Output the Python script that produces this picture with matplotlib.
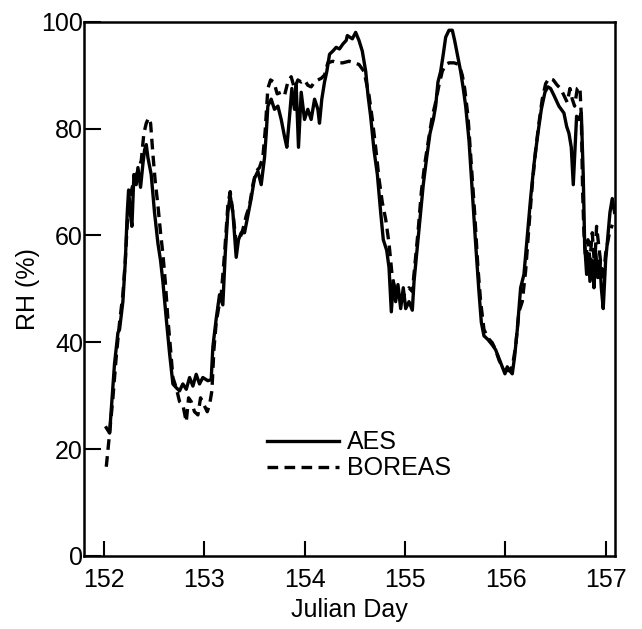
import matplotlib
matplotlib.use('Agg')
import matplotlib.pyplot as plt

plt.rcParams['font.family'] = ['Liberation Sans', 'DejaVu Sans']

# AES series (solid)
aes_day = [152.027, 152.060, 152.109, 152.143, 152.159, 152.192, 152.216, 152.235, 152.249, 152.269,
           152.282, 152.302, 152.325, 152.342, 152.368, 152.391, 152.408, 152.425, 152.441, 152.474,
           152.507, 152.541, 152.567, 152.590, 152.624, 152.657, 152.690, 152.723, 152.756, 152.789,
           152.823, 152.856, 152.889, 152.922, 152.955, 152.988, 153.038, 153.071, 153.088, 153.121,
           153.154, 153.187, 153.211, 153.237, 153.260, 153.287, 153.320, 153.343, 153.370, 153.403,
           153.436, 153.469, 153.502, 153.536, 153.569, 153.602, 153.619, 153.635, 153.668, 153.701,
           153.735, 153.768, 153.801, 153.824, 153.851, 153.874, 153.900, 153.917, 153.940, 153.967,
           154.000, 154.033, 154.066, 154.100, 154.133, 154.149, 154.172, 154.199, 154.222, 154.249,
           154.282, 154.315, 154.348, 154.381, 154.415, 154.426, 154.476, 154.509, 154.542, 154.575,
           154.609, 154.632, 154.658, 154.692, 154.725, 154.758, 154.784, 154.818, 154.841, 154.864,
           154.884, 154.907, 154.930, 154.957, 154.983, 155.007, 155.040, 155.073, 155.090, 155.116,
           155.149, 155.182, 155.216, 155.249, 155.282, 155.305, 155.328, 155.355, 155.381, 155.405,
           155.438, 155.471, 155.494, 155.521, 155.554, 155.580, 155.604, 155.637, 155.670, 155.703,
           155.736, 155.760, 155.786, 155.826, 155.869, 155.902, 155.935, 155.968, 155.995, 156.018,
           156.041, 156.068, 156.091, 156.118, 156.151, 156.184, 156.211, 156.250, 156.284, 156.323,
           156.357, 156.393, 156.423, 156.449, 156.483, 156.532, 156.582, 156.609, 156.632, 156.655,
           156.675, 156.692, 156.708, 156.731, 156.755, 156.774, 156.788, 156.808, 156.824, 156.841,
           156.864, 156.881, 156.900, 156.920, 156.940, 156.954, 156.973, 156.997, 157.013, 157.040,
           157.063, 157.086]
aes_rh = [24.0, 23.0, 36.0, 41.8, 42.4, 47.6, 55.0, 64.0, 68.5, 63.7,
          61.7, 71.4, 69.5, 72.7, 69.0, 73.3, 76.0, 77.0, 74.6, 71.4,
          64.3, 58.5, 55.3, 51.4, 44.4, 37.9, 32.2, 31.5, 30.9, 32.2,
          31.2, 33.4, 31.8, 34.0, 32.2, 33.4, 32.8, 33.0, 39.2, 44.4,
          48.9, 47.0, 56.6, 64.3, 67.5, 64.3, 55.9, 59.2, 60.5, 60.5,
          63.7, 66.9, 70.7, 72.0, 69.5, 74.6, 79.1, 84.2, 85.5, 83.6,
          84.2, 81.7, 78.5, 76.5, 82.3, 87.5, 83.6, 88.1, 76.5, 86.8,
          81.7, 83.6, 81.7, 85.5, 83.6, 81.0, 85.5, 88.7, 90.7, 93.9,
          94.5, 95.2, 94.9, 95.8, 96.5, 97.4, 96.8, 98.0, 96.5, 94.5,
          90.7, 86.2, 82.3, 75.9, 71.4, 64.3, 59.2, 57.2, 54.0, 45.7,
          51.4, 47.6, 50.8, 46.3, 50.2, 46.3, 47.6, 46.0, 51.4, 56.6,
          63.0, 69.5, 74.6, 79.1, 81.7, 84.2, 88.7, 90.7, 93.9, 97.1,
          98.4, 98.4, 96.5, 93.9, 90.7, 87.5, 84.2, 77.8, 68.2, 58.5,
          49.5, 43.7, 41.2, 40.5, 39.5, 38.6, 37.0, 35.4, 34.1, 35.4,
          34.7, 34.1, 37.3, 42.4, 50.2, 52.7, 58.5, 66.9, 73.3, 79.1,
          83.6, 86.8, 87.8, 87.5, 86.2, 84.2, 82.9, 80.4, 79.1, 76.5,
          69.5, 75.9, 82.3, 81.7, 82.9, 71.4, 58.5, 52.7, 56.6, 51.4,
          55.3, 50.2, 56.6, 52.1, 55.3, 50.2, 46.3, 55.3, 58.5, 64.3,
          66.9, 64.3]

# BOREAS series (dashed)
bor_day = [152.027, 152.060, 152.093, 152.126, 152.159, 152.192, 152.216, 152.242, 152.275, 152.308,
           152.342, 152.375, 152.401, 152.425, 152.448, 152.468, 152.491, 152.514, 152.541, 152.567,
           152.590, 152.614, 152.640, 152.667, 152.690, 152.723, 152.756, 152.789, 152.823, 152.846,
           152.872, 152.905, 152.939, 152.965, 152.998, 153.032, 153.055, 153.078, 153.098, 153.121,
           153.144, 153.171, 153.204, 153.237, 153.260, 153.287, 153.320, 153.353, 153.386, 153.420,
           153.453, 153.486, 153.519, 153.552, 153.585, 153.609, 153.635, 153.662, 153.695, 153.728,
           153.768, 153.801, 153.834, 153.867, 153.900, 153.934, 153.967, 154.000, 154.033, 154.066,
           154.100, 154.133, 154.166, 154.199, 154.232, 154.282, 154.332, 154.381, 154.443, 154.493,
           154.542, 154.592, 154.642, 154.675, 154.708, 154.741, 154.774, 154.808, 154.841, 154.857,
           154.874, 154.907, 154.940, 154.973, 155.007, 155.040, 155.073, 155.096, 155.129, 155.163,
           155.196, 155.239, 155.272, 155.305, 155.338, 155.371, 155.405, 155.438, 155.488, 155.537,
           155.570, 155.594, 155.627, 155.660, 155.693, 155.726, 155.753, 155.786, 155.826, 155.869,
           155.902, 155.935, 155.968, 156.002, 156.035, 156.068, 156.101, 156.134, 156.167, 156.201,
           156.234, 156.267, 156.300, 156.333, 156.366, 156.400, 156.433, 156.476, 156.516, 156.549,
           156.582, 156.615, 156.642, 156.665, 156.688, 156.715, 156.741, 156.755, 156.768, 156.781,
           156.798, 156.821, 156.841, 156.864, 156.887, 156.907, 156.930, 156.954, 156.973, 156.997,
           157.030, 157.063]
bor_rh = [16.7, 23.0, 29.6, 37.3, 43.7, 48.9, 55.3, 64.3, 68.2, 70.7,
          72.0, 74.0, 79.1, 81.0, 82.0, 81.0, 75.2, 70.1, 65.6, 60.5,
          56.6, 51.4, 44.4, 38.6, 33.4, 31.5, 28.9, 28.3, 25.1, 29.6,
          28.9, 27.0, 26.4, 29.6, 28.3, 27.0, 28.3, 30.9, 38.6, 43.7,
          46.3, 48.9, 56.6, 65.6, 68.2, 64.3, 58.5, 59.2, 61.1, 63.7,
          65.6, 69.5, 72.0, 72.7, 74.6, 79.7, 87.5, 89.1, 88.7, 86.5,
          86.8, 86.2, 88.7, 89.7, 87.5, 89.1, 88.7, 89.1, 88.1, 87.8,
          88.7, 89.1, 89.4, 90.0, 92.3, 92.6, 92.3, 92.3, 92.6, 92.3,
          92.0, 90.7, 86.2, 81.7, 76.5, 70.7, 66.2, 63.0, 58.5, 55.3,
          52.1, 49.5, 48.9, 48.2, 49.5, 50.2, 49.5, 54.0, 60.5, 68.2,
          73.3, 78.5, 82.3, 84.9, 88.1, 90.7, 92.0, 92.3, 92.3, 92.0,
          90.0, 87.5, 82.3, 73.3, 64.3, 54.0, 47.6, 42.4, 40.8, 39.9,
          38.6, 36.7, 35.4, 34.7, 34.7, 35.4, 39.2, 45.7, 47.6, 53.4,
          61.7, 69.5, 75.9, 81.0, 85.5, 88.4, 89.4, 89.1, 88.1, 87.5,
          86.2, 84.9, 87.5, 85.5, 84.2, 87.5, 87.8, 82.3, 68.2, 60.5,
          55.3, 59.2, 55.3, 60.5, 54.0, 61.7, 57.8, 54.0, 51.4, 56.6,
          60.0, 62.0]

xticks = [152, 153, 154, 155, 156, 157]
yticks = [0, 20, 40, 60, 80, 100]
series_labels = ['AES', 'BOREAS']
xlabel = 'Julian Day'
ylabel = 'RH (%)'

fig = plt.figure(figsize=(6.42, 6.29), dpi=100)
ax = fig.add_axes([0.1316, 0.1161, 0.8263, 0.8494])

ax.plot(aes_day, aes_rh, color='black', lw=2.4, label=series_labels[0])
ax.plot(bor_day, bor_rh, color='black', lw=2.4, dashes=(3.2, 1.9), label=series_labels[1])

ax.set_xlim(151.81, 157.09)
ax.set_ylim(0, 100)
ax.set_xticks(xticks)
ax.set_yticks(yticks)
ax.tick_params(direction='in', width=1.5, labelsize=18, colors='black')
ax.tick_params(axis='x', length=11, pad=9)
ax.tick_params(axis='y', length=12, pad=1)
for s in ax.spines.values():
    s.set_linewidth(1.8)

ax.set_xlabel(xlabel, fontsize=18, labelpad=4)
ax.set_ylabel(ylabel, fontsize=18, labelpad=1)

ax.legend(loc='upper left', bbox_to_anchor=(0.344, 0.235), frameon=False,
          fontsize=18, handlelength=2.9, handletextpad=0.3, labelspacing=0.08,
          borderpad=0, borderaxespad=0)

fig.savefig('out.png', dpi=100)
